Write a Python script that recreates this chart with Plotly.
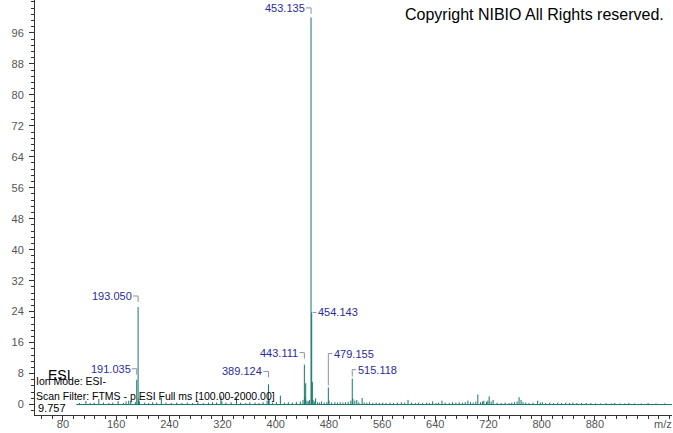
import plotly.graph_objects as go

# Spectrum peaks: m/z and relative abundance (%)
mz = [105, 114.6, 121, 127, 134, 141, 149, 155, 163, 171, 175, 179, 182, 189,
      191.035, 193.050, 194.05, 195, 203, 209, 215, 221, 228, 235, 243, 251,
      259, 267, 275, 283, 291, 299, 305, 311, 317.6, 319, 325, 333, 341, 347,
      355, 361, 369, 375, 381, 387, 389.124, 390.1, 395, 401, 407, 413, 419,
      425, 431, 437, 441, 443.111, 444.1, 445.1, 447, 449, 451, 453.135,
      454.143, 455.1, 456.1, 458, 460, 463, 466, 469, 473, 477, 479.155, 480.2,
      484, 489, 493, 497, 501, 505, 509, 513, 515.118, 516.1, 519, 522, 525,
      530, 533, 537, 541, 546, 551, 556, 561, 566, 572, 577, 583, 589, 594,
      599, 604, 610, 615, 621, 627, 631, 636, 641, 645, 650, 655, 661, 666,
      671, 676, 681, 685, 689, 693, 697, 701, 704, 708, 711, 713, 717, 719,
      721, 724, 727, 733, 739, 745, 751, 755, 759, 763, 766, 769, 772, 776,
      781, 787, 794, 798, 801, 806, 812, 818, 824, 830, 836, 842, 847, 853,
      860, 867, 874, 881, 889, 897, 905, 910, 918, 925, 931, 940, 950, 960,
      972, 985]
intensity = [0.4, 0.9, 0.4, 0.5, 1.5, 0.5, 0.4, 0.5, 0.9, 0.4, 0.8, 1.0, 0.9, 0.6,
             6.4, 25.2, 1.6, 0.8, 0.5, 0.4, 0.6, 0.5, 1.8, 0.5, 0.4, 0.5,
             0.4, 0.5, 0.4, 0.6, 0.4, 0.5, 0.6, 0.5, 2.2, 0.8, 0.5, 0.6, 1.8, 0.5,
             0.4, 0.6, 0.5, 0.4, 0.6, 1.0, 5.2, 1.4, 0.5, 0.6, 2.3, 0.5, 0.6,
             0.5, 0.7, 0.8, 1.2, 10.3, 2.0, 5.5, 1.0, 0.8, 1.2, 100,
             23.8, 5.8, 1.2, 0.8, 1.6, 0.6, 0.5, 0.8, 0.5, 0.6, 4.4, 1.0,
             0.5, 0.6, 0.5, 0.6, 0.5, 0.6, 0.7, 1.0, 6.7, 1.5, 1.0, 1.2, 0.6,
             1.7, 0.5, 0.5, 0.6, 0.4, 0.5, 0.4, 0.5, 0.4, 0.5, 0.4, 0.5, 0.6, 0.5,
             1.2, 0.5, 0.4, 0.5, 0.4, 0.5, 0.4, 0.8, 0.4, 0.5, 1.0, 0.5, 0.4, 0.6,
             0.5, 0.6, 0.5, 0.6, 1.0, 0.6, 0.5, 0.8, 2.6, 0.6, 0.8, 1.0, 0.7, 1.0,
             2.1, 0.8, 1.2, 0.5, 0.4, 0.5, 0.4, 0.5, 0.6, 0.8, 1.9, 1.2, 0.6, 0.5,
             0.4, 0.5, 1.0, 0.5, 0.6, 0.4, 0.5, 0.4, 0.5, 0.4, 0.5, 0.4, 0.5, 0.4,
             0.4, 0.4, 0.4, 0.3, 0.3, 0.4, 0.3, 0.4, 0.3, 0.3, 0.4, 0.3, 0.3, 0.4,
             0.3, 0.3]

# Labelled peaks
label_mz = [453.135, 454.143, 193.050, 191.035, 443.111, 389.124, 479.155, 515.118]
label_int = [100, 23.8, 25.2, 6.4, 10.3, 5.2, 4.4, 6.7]
label_side = ['left', 'right', 'left', 'left', 'left', 'left', 'right', 'right']

x_ticks = [80, 160, 240, 320, 400, 480, 560, 640, 720, 800, 880]
y_ticks = [0, 8, 16, 24, 32, 40, 48, 56, 64, 72, 80, 88, 96]
scan_range = [100, 996]

TEAL = '#17756d'
LABEL = '#2b2b9c'
CONN = '#8e8eae'
TICK = '#555555'
FONT = 'Liberation Sans, Arial, sans-serif'

# sticks
xs, ys = [], []
for m, h in zip(mz, intensity):
    xs += [m, m, None]
    ys += [0, h, None]

fig = go.Figure()
fig.add_trace(go.Scatter(x=scan_range, y=[0, 0], mode='lines',
                         line=dict(color=TEAL, width=1), hoverinfo='skip'))
fig.add_trace(go.Scatter(x=xs, y=ys, mode='lines',
                         line=dict(color=TEAL, width=1), hoverinfo='skip'))

# label offsets in pixels (label height above peak top)
label_dy = {453.135: 9.5, 454.143: 0, 193.050: 11, 191.035: 11,
            443.111: 12, 389.124: 13, 479.155: 34, 515.118: 9}

for m, h, side in zip(label_mz, label_int, label_side):
    dy = label_dy[m]
    txt = f'{m:.3f}'
    if side == 'left':
        path = f'M -5,{dy} L 0,{dy} L 0,{max(dy - 6, 2)}'
        fig.add_annotation(x=m, y=h, xref='x', yref='y', text=txt, showarrow=False,
                           xanchor='right', yanchor='middle', xshift=-4, yshift=dy,
                           font=dict(family=FONT, size=11, color=LABEL))
    else:
        if dy == 0:
            path = 'M 1,0 L 5,0'
        else:
            path = f'M 0,2 L 0,{dy} L 4,{dy}'
        fig.add_annotation(x=m, y=h, xref='x', yref='y', text=txt, showarrow=False,
                           xanchor='left', yanchor='middle', xshift=4, yshift=dy,
                           font=dict(family=FONT, size=11, color=LABEL))
    fig.add_shape(type='path', xref='x', yref='y', xsizemode='pixel', ysizemode='pixel',
                  xanchor=m, yanchor=h, path=path, line=dict(color=CONN, width=1))

# header / info texts
W, H, L, B = 673, 433, 35, 18
PW, PH = W - L - 1, H - B


def px(xp, yp):
    return (xp - L) / PW, (PH - yp) / PH


cx, cy = px(666, 14)
fig.add_annotation(x=cx, y=cy, xref='paper', yref='paper', showarrow=False,
                   text='Copyright NIBIO All Rights reserved.', xanchor='right',
                   yanchor='middle', font=dict(family=FONT, size=16, color='black'))

info = [('ESI', 47, 375, 14), ('Ion Mode: ESI-', 35, 381, 10.5),
        ('Scan Filter: FTMS - p ESI Full ms [100.00-2000.00]', 35, 396, 10.5),
        ('9.757', 37, 408, 11)]
for t, xp, yp, sz in info:
    ax, ay = px(xp, yp)
    fig.add_annotation(x=ax, y=ay, xref='paper', yref='paper', showarrow=False, text=t,
                       xanchor='left', yanchor='middle', borderpad=0,
                       font=dict(family=FONT, size=sz, color='black'))

mx, my = px(663, 424)
fig.add_annotation(x=mx, y=my, xref='paper', yref='paper', showarrow=False, text='m/z',
                   xanchor='center', yanchor='middle',
                   font=dict(family=FONT, size=11, color=TICK))

fig.update_layout(
    width=W, height=H,
    margin=dict(l=L, r=1, t=0, b=B, autoexpand=False),
    paper_bgcolor='white', plot_bgcolor='white',
    showlegend=False,
    xaxis=dict(range=[38, 996], tickmode='array', tickvals=x_ticks, automargin=False,
               showgrid=False, zeroline=False, showline=True, linecolor='#333333',
               ticks='outside', ticklen=5, tickcolor='#333333', ticklabelstandoff=-6,
               tickfont=dict(family=FONT, size=11, color=TICK),
               minor=dict(dtick=16, tick0=0, ticks='outside', ticklen=3,
                          tickcolor='#333333', showgrid=False)),
    yaxis=dict(range=[-2.7, 104.5], tickmode='array', tickvals=y_ticks, automargin=False,
               showgrid=False, zeroline=False, showline=True, linecolor='#333333',
               ticks='outside', ticklen=5, tickcolor='#333333', ticklabelstandoff=3,
               tickfont=dict(family=FONT, size=11, color=TICK),
               minor=dict(dtick=1.6, tick0=0, ticks='outside', ticklen=3,
                          tickcolor='#333333', showgrid=False)),
)

# the page body has a default 8px margin; drop it so the figure sits at 0,0
fig.write_html('out.html', config={'displayModeBar': False},
               post_script="document.body.style.margin='0';")
